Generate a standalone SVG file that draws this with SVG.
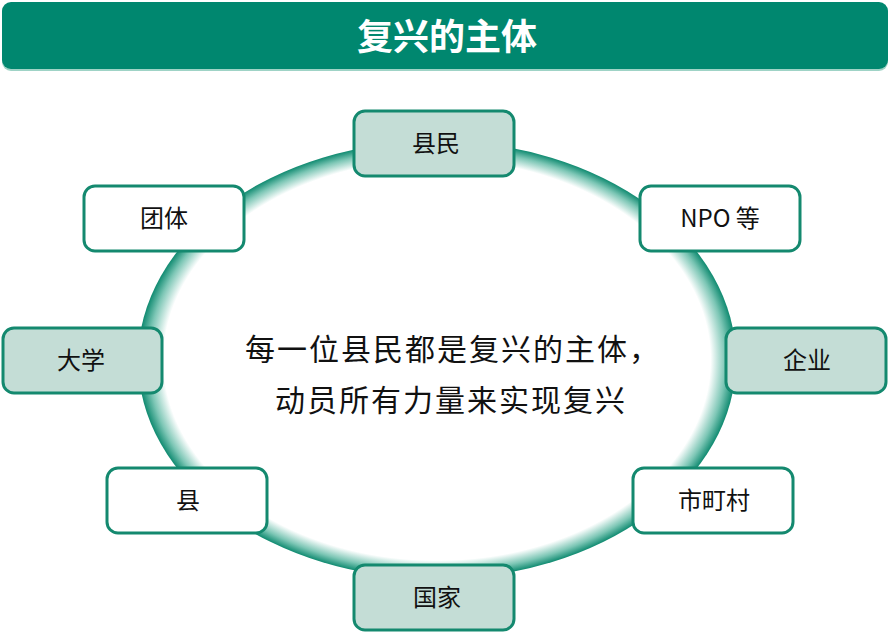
<svg xmlns="http://www.w3.org/2000/svg" width="890" height="633" viewBox="0 0 890 633">
<style>
.box{stroke:#14896f;stroke-width:3}
.lt{fill:#c4ddd6}
.wt{fill:#ffffff}
.lbl{font-family:"Noto Sans CJK SC","Noto Sans",sans-serif;font-size:24px;fill:#111;text-anchor:middle}
.ctr{font-family:"Noto Sans CJK SC",sans-serif;font-size:30px;fill:#111;letter-spacing:2px}
.ttl{font-family:"Noto Sans CJK SC",sans-serif;font-size:36px;font-weight:bold;fill:#fff;text-anchor:middle}
</style>
<defs>
<radialGradient id="ringg" cx="0.5" cy="0.5" r="0.5">
<stop offset="0" stop-color="#ffffff" stop-opacity="0"/>
<stop offset="0.89" stop-color="#ffffff" stop-opacity="0"/>
<stop offset="0.915" stop-color="#ffffff"/>
<stop offset="0.965" stop-color="#7cc6b5"/>
<stop offset="1" stop-color="#0f8a70"/>
</radialGradient>
</defs>
<rect width="890" height="633" fill="#fff"/>
<g id="title">
<rect x="2" y="4" width="886" height="67" rx="9" fill="#9fd3c6"/>
<rect x="2" y="2" width="886" height="67" rx="9" fill="#00876f"/>
<text class="ttl" x="447" y="50">复兴的主体</text>
</g>
<g id="connectors">
<ellipse cx="437" cy="360" rx="299" ry="219" fill="url(#ringg)"/>
</g>
<g id="center-text">
<text class="ctr" x="245" y="360">每一位县民都是复兴的主体，</text>
<text class="ctr" x="275" y="411">动员所有力量来实现复兴</text>
</g>
<g id="n-kenmin"><rect class="box lt" x="354" y="111" width="160" height="65" rx="11"/><text class="lbl" x="436" y="152">县民</text></g>
<g id="n-dantai"><rect class="box wt" x="84" y="186" width="160" height="65" rx="11"/><text class="lbl" x="164" y="227">团体</text></g>
<g id="n-npo"><rect class="box wt" x="640" y="186" width="160" height="65" rx="11"/><text class="lbl" x="720" y="227">NPO 等</text></g>
<g id="n-daigaku"><rect class="box lt" x="3" y="328" width="159" height="65" rx="11"/><text class="lbl" x="81" y="369">大学</text></g>
<g id="n-kigyo"><rect class="box lt" x="726" y="328" width="160" height="65" rx="11"/><text class="lbl" x="807" y="369">企业</text></g>
<g id="n-ken"><rect class="box wt" x="107" y="468" width="160" height="65" rx="11"/><text class="lbl" x="188" y="509">县</text></g>
<g id="n-shichoson"><rect class="box wt" x="633" y="468" width="160" height="65" rx="11"/><text class="lbl" x="714" y="509">市町村</text></g>
<g id="n-kuni"><rect class="box lt" x="354" y="565" width="160" height="65" rx="11"/><text class="lbl" x="437" y="606">国家</text></g>
</svg>
